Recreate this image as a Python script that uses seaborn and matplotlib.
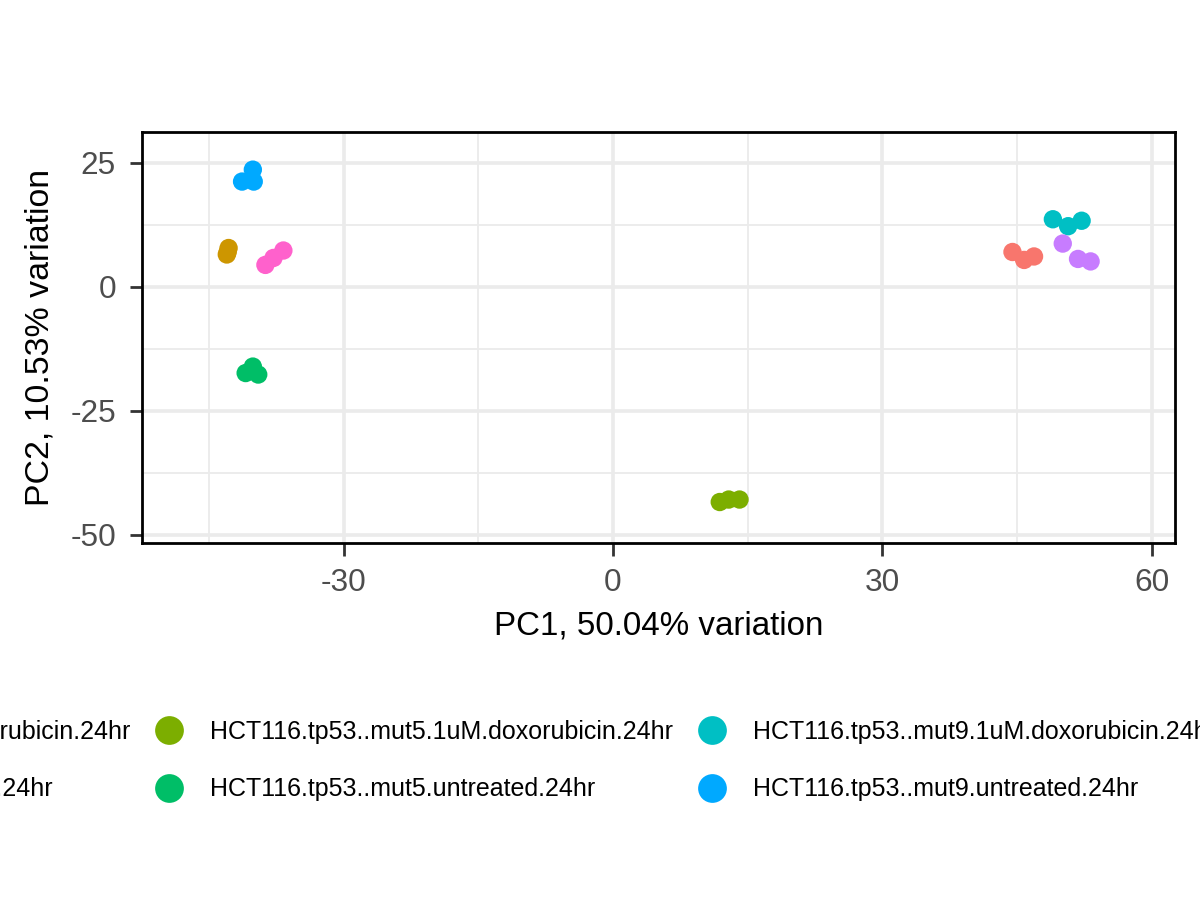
import matplotlib
matplotlib.use("Agg")
import matplotlib.pyplot as plt
from matplotlib.lines import Line2D
import seaborn as sns
import pandas as pd

# ---- data ----
groups = [
    "HCT116.parental.1uM.doxorubicin.24hr",
    "HCT116.parental.untreated.24hr",
    "HCT116.tp53..mut5.1uM.doxorubicin.24hr",
    "HCT116.tp53..mut5.untreated.24hr",
    "HCT116.tp53..mut9.1uM.doxorubicin.24hr",
    "HCT116.tp53..mut9.untreated.24hr",
    "HCT116.tp53..wt.1uM.doxorubicin.24hr",
    "HCT116.tp53..wt.untreated.24hr",
]
pc1 = [
    [44.5, 45.8, 46.9],
    [-42.8, -43.0, -42.9],
    [11.9, 12.9, 14.1],
    [-40.9, -40.1, -39.5],
    [49.0, 50.7, 52.2],
    [-40.1, -41.3, -40.0],
    [50.1, 51.8, 53.2],
    [-38.7, -37.8, -36.7],
]
pc2 = [
    [7.0, 5.4, 6.1],
    [7.8, 6.5, 7.0],
    [-43.4, -42.9, -42.9],
    [-17.4, -16.1, -17.7],
    [13.6, 12.2, 13.3],
    [23.6, 21.2, 21.2],
    [8.7, 5.6, 5.1],
    [4.4, 5.8, 7.3],
]
colors = ["#F8766D", "#CD9600", "#7CAE00", "#00BE67",
          "#00BFC4", "#00A9FF", "#C77CFF", "#FF61CC"]
x_ticks = [-30, 0, 30, 60]
y_ticks = [-50, -25, 0, 25]
x_label = "PC1, 50.04% variation"
y_label = "PC2, 10.53% variation"

rows = []
for g, xs, ys in zip(groups, pc1, pc2):
    for x, y in zip(xs, ys):
        rows.append({"PC1": x, "PC2": y, "group": g})
df = pd.DataFrame(rows)

sns.set_theme(style="white")
plt.rcParams["font.family"] = ["Liberation Sans", "DejaVu Sans"]
plt.rcParams["axes.unicode_minus"] = False

W, H = 1200, 900
fig = plt.figure(figsize=(12, 9), dpi=100)
L, R, T, B = 141.5, 1175, 131.7, 542.7
ax = fig.add_axes([L / W, 1 - B / H, (R - L) / W, (B - T) / H])

sns.scatterplot(data=df, x="PC1", y="PC2", hue="group", hue_order=groups,
                palette=colors, s=175, linewidth=0, alpha=1, ax=ax,
                legend=False, zorder=3)

ax.set_xlim(-52.5, 62.6)
ax.set_ylim(-51.6, 31.25)
ax.set_xticks(x_ticks)
ax.set_xticks([-45, -15, 15, 45], minor=True)
ax.set_yticks(y_ticks)
ax.set_yticks([-37.5, -12.5, 12.5], minor=True)
ax.grid(True, which="major", color="#EBEBEB", linewidth=2.6, zorder=0)
ax.grid(True, which="minor", color="#EBEBEB", linewidth=1.3, zorder=0)
ax.set_axisbelow(True)
for s in ax.spines.values():
    s.set_color("black")
    s.set_linewidth(2.0)
    s.set_visible(True)
ax.tick_params(axis="both", which="major", length=9, width=2.0,
               color="#333333", labelcolor="#4D4D4D", labelsize=22.7,
               direction="out", bottom=True, left=True)
ax.tick_params(axis="x", which="major", pad=9.3)
ax.tick_params(axis="y", which="major", pad=9.4)
ax.tick_params(which="minor", length=0)
ax.set_xlabel(x_label, fontsize=23.9, color="black", labelpad=9)
ax.set_ylabel(y_label, fontsize=24.4, color="black", labelpad=10.5)

handles = [Line2D([], [], linestyle="none", marker="o", markersize=20.7,
                  markerfacecolor=c, markeredgewidth=0) for c in colors]
leg = fig.legend(handles, groups, ncol=4, loc="upper left",
                 bbox_to_anchor=(0.0, 0.25), frameon=False,
                 fontsize=18.0, handlelength=1.2, handletextpad=1.05,
                 columnspacing=0.95, labelspacing=1.33, borderpad=0,
                 labelcolor="black")

fig.canvas.draw()
renderer = fig.canvas.get_renderer()
tb = leg.get_texts()[2].get_window_extent(renderer)
dx = 210 - tb.x0
dy = (H - 732) - (tb.y0 + tb.y1) / 2
leg.set_bbox_to_anchor((0.0 + dx / W, 0.25 + dy / H), transform=fig.transFigure)

fig.savefig("out.png", dpi=100)
